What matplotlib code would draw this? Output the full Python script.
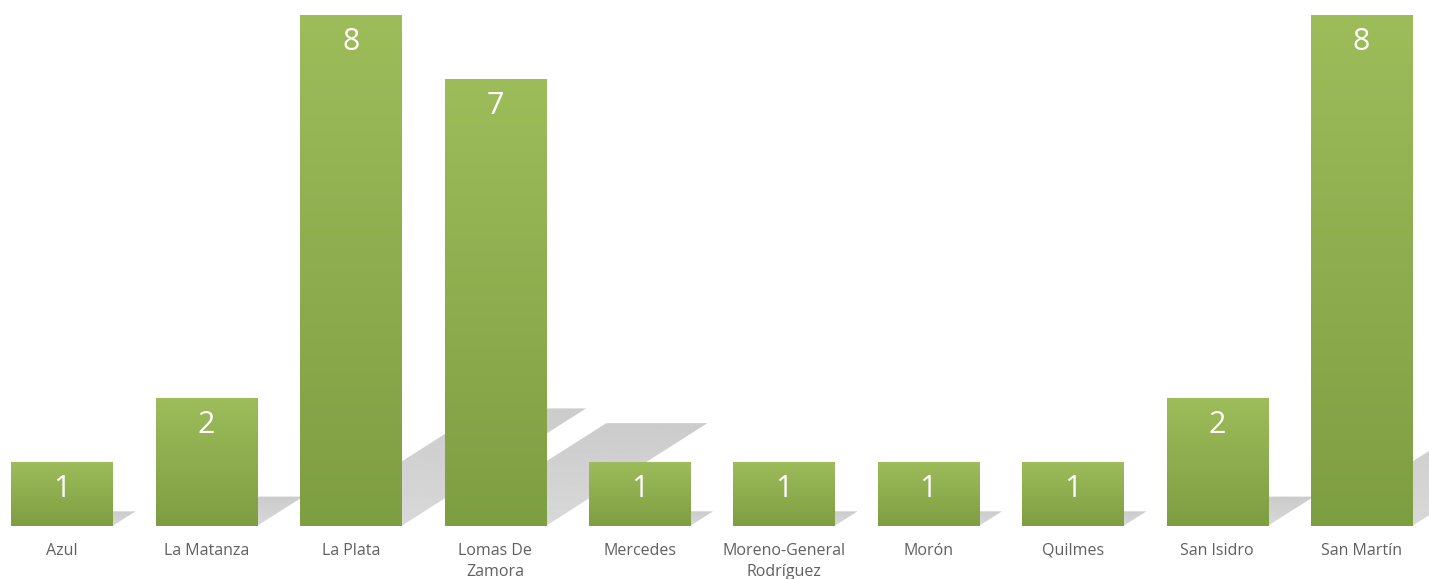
import numpy as np
import matplotlib.pyplot as plt
from matplotlib.patches import Polygon, Rectangle

categorias = ['Azul', 'La Matanza', 'La Plata', 'Lomas De\nZamora', 'Mercedes',
              'Moreno-General\nRodríguez', 'Morón', 'Quilmes', 'San Isidro', 'San Martín']
valores = [1, 2, 8, 7, 1, 1, 1, 1, 2, 8]

plt.rcParams['font.family'] = ['Open Sans', 'DejaVu Sans']

fig = plt.figure(figsize=(14.29, 5.79), dpi=100)
ax = fig.add_axes([0, 53/579, 1, 526/579])
ax.set_xlim(-0.429, 9.467)
ax.set_ylim(0, 526/63.9)

ancho = 0.70
x = np.arange(len(valores))

# gradiente vertical para las barras (claro arriba, oscuro abajo)
grad = np.linspace(1, 0, 256).reshape(-1, 1)
verde = np.zeros((256, 1, 3))
top = np.array([157, 188, 90]) / 255
bot = np.array([126, 158, 66]) / 255
verde[:, 0, :] = bot + (top - bot) * grad
sombra_grad = np.zeros((256, 1, 4))
sombra_grad[:, 0, :3] = 0.80
sombra_grad[:, 0, 3] = np.linspace(1.0, 0.75, 256)[::-1]

for xi, v in zip(x, valores):
    izq, der = xi - ancho/2, xi + ancho/2
    # sombra inclinada
    dh = v * 0.23
    dx = v * 0.16
    poly = Polygon([(izq, 0), (der, 0), (der + dx, dh), (izq + dx, dh)],
                   closed=True, facecolor='none', edgecolor='none')
    ax.add_patch(poly)
    im = ax.imshow(sombra_grad, extent=(izq, der + dx, 0, dh), aspect='auto',
                   origin='lower', zorder=1)
    im.set_clip_path(poly)

for xi, v in zip(x, valores):
    izq = xi - ancho/2
    rect = Rectangle((izq, 0), ancho, v, facecolor='none', edgecolor='none')
    ax.add_patch(rect)
    im = ax.imshow(verde, extent=(izq, izq + ancho, 0, v), aspect='auto',
                   origin='upper', zorder=2)
    im.set_clip_path(rect)
    ax.text(xi, v - 0.42, str(v), ha='center', va='center', color='white',
            fontsize=22, zorder=3)

ax.set_xticks(x)
ax.set_xticklabels(categorias, color='#606060', fontsize=11.5, linespacing=1.45)
ax.tick_params(axis='x', length=0, pad=12)
ax.set_yticks([])
for s in ax.spines.values():
    s.set_visible(False)

plt.savefig('out.png', dpi=100)
